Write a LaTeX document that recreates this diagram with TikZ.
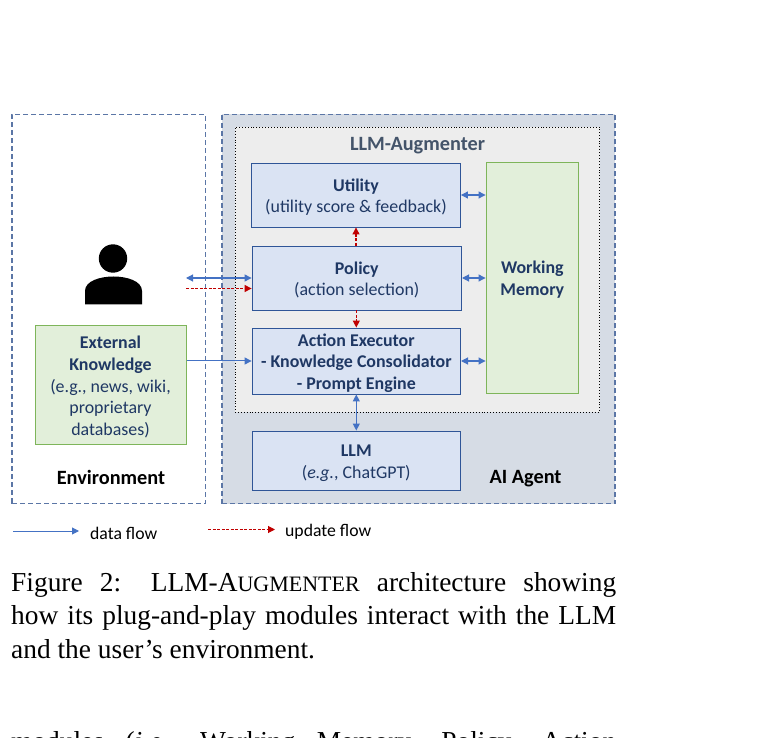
\documentclass[tikz,border=0pt]{standalone}
\usepackage{fontspec}
\setmainfont{Carlito}
\newfontfamily\capfont{Liberation Serif}
\usetikzlibrary{arrows.meta}
\definecolor{navy}{HTML}{1F3864}
\definecolor{slatetxt}{HTML}{44546A}
\definecolor{blueline}{HTML}{4472C4}
\definecolor{boxline}{HTML}{2F5597}
\definecolor{boxfill}{HTML}{DAE3F3}
\definecolor{greenline}{HTML}{7EB55A}
\definecolor{greenfill}{HTML}{E2EFDA}
\definecolor{agentfill}{HTML}{D6DCE5}
\definecolor{augfill}{HTML}{EDEDED}
\definecolor{dashline}{HTML}{5B76A6}
\definecolor{redline}{HTML}{C00000}
\tikzset{
  x=1pt,y=-1pt,
  bodytext/.style={font=\fontsize{17.9}{21.6}\selectfont,text=navy,align=center,inner sep=0pt},
  boxtext/.style={bodytext,yshift=-2pt},
  modbox/.style={draw=boxline,fill=boxfill,line width=0.9pt,inner sep=0pt},
  greenbox/.style={draw=greenline,fill=greenfill,line width=1pt,inner sep=0pt},
  outer/.style={draw=dashline,line width=1.3pt,dash pattern=on 5pt off 3pt},
  blab/.style={font=\fontsize{20.3}{24}\selectfont\bfseries,text=black,inner sep=0pt},
  leg/.style={font=\fontsize{17.7}{20}\selectfont,text=black,inner sep=0pt,anchor=west},
  data/.style={draw=blueline,line width=1pt,-{Triangle[length=7pt,width=7pt]}},
  datab/.style={draw=blueline,line width=1.1pt,{Triangle[length=7pt,width=7pt]}-{Triangle[length=7pt,width=7pt]}},
  upd/.style={draw=redline,line width=1.1pt,dash pattern=on 3pt off 1.5pt,-{Triangle[length=7pt,width=7pt]}},
  capline/.style={anchor=base west,inner sep=0pt,text width=605pt,align=justify,font=\capfont\fontsize{27.4}{33.5}\selectfont,text=black},
}
\begin{document}
\begin{tikzpicture}
\useasboundingbox (0,0) rectangle (772,738);
\clip (0,0) rectangle (772,738);
% containers
\node[outer,minimum width=193.5pt,minimum height=389pt,inner sep=0pt] (env) at (108.8,309) {};
\node[outer,fill=agentfill,minimum width=393pt,minimum height=389pt,inner sep=0pt] (agent) at (418.5,309) {};
\node[draw=black,fill=augfill,dotted,line width=0.9pt,minimum width=364.5pt,minimum height=285pt,inner sep=0pt] (aug) at (417.3,269.5) {};
\node[font=\fontsize{20.3}{24}\selectfont\bfseries,text=slatetxt,inner sep=0pt] (augt) at (417.5,146) {LLM-Augmenter};
% modules
\node[modbox,minimum width=209pt,minimum height=64pt,label={[boxtext]center:{\textbf{Utility}\\(utility score \& feedback)}}] (utility) at (356,195) {};
\node[modbox,minimum width=209.5pt,minimum height=64pt,label={[boxtext]center:{\textbf{Policy}\\(action selection)}}] (policy) at (356.8,278) {};
\node[modbox,minimum width=208.5pt,minimum height=66pt,label={[boxtext]center:{\textbf{Action Executor}\\\textbf{- Knowledge Consolidator}\\\textbf{- Prompt Engine}}}] (action) at (356.3,361) {};
\node[modbox,minimum width=208.5pt,minimum height=59pt,label={[boxtext,yshift=-0.5pt]center:{\textbf{LLM}\\(\textit{e.g.}, ChatGPT)}}] (llm) at (356.3,460.5) {};
\node[greenbox,minimum width=92.5pt,minimum height=231pt,label={[bodytext,yshift=-1pt]center:{\textbf{Working}\\\textbf{Memory}}}] (wm) at (532.3,278.5) {};
\node[greenbox,minimum width=151pt,minimum height=118pt,label={[boxtext]center:{\textbf{External}\\\textbf{Knowledge}\\(e.g., news, wiki,\\proprietary\\databases)}}] (ek) at (110.5,385) {};
% labels
\node[blab] (envl) at (111,477.5) {Environment};
\node[blab] (agl) at (525.5,478.5) {AI Agent};
% person
\fill[black] (113,258.5) circle (14.2);
\fill[black] (85,304.5) -- (85,291) .. controls (85,281) and (100,276.5) .. (113.5,276.5) .. controls (127,276.5) and (142,281) .. (142,291) -- (142,304.5) -- cycle;
% free ends
\coordinate (userA) at (186,278);
\coordinate (userB) at (186,288.5);
\coordinate (legA) at (13,531);
\coordinate (legB) at (79,531);
\coordinate (legC) at (208,529.5);
\coordinate (legD) at (275,529.5);
% connectors
\draw[datab] (userA) -- (userA -| policy.west);
\draw[upd] (userB) -- (userB -| policy.west);
\draw[data] (ek.east |- action.west) -- (action.west);
\draw[datab] (utility.east) -- (utility.east -| wm.west);
\draw[datab] (policy.east) -- (policy.east -| wm.west);
\draw[datab] (action.east) -- (action.east -| wm.west);
\draw[upd] (policy.north -| utility.south) -- (utility.south);
\draw[upd] (policy.south -| action.north) -- (action.north);
\draw[datab] (action.south) -- (llm.north);
% legend
\draw[data] (legA) -- (legB);
\draw[upd] (legC) -- (legD);
\node[leg] (l1) at (90,533) {data flow};
\node[leg] (l2) at (285,531.5) {update flow};
% caption
\node[capline] (cap1) at (11,591) {Figure 2: LLM-A{\fontsize{22}{33.5}\selectfont UGMENTER} architecture showing\linebreak};
\node[capline] (cap2) at (11,624.5) {how its plug-and-play modules interact with the LLM\linebreak};
\node[capline] (cap3) at (11,658) {and the user’s environment.};
\node[capline] (cut) at (11,750) {modules (\textit{i.e.}, Working Memory, Policy, Action\linebreak};
\end{tikzpicture}
\end{document}
